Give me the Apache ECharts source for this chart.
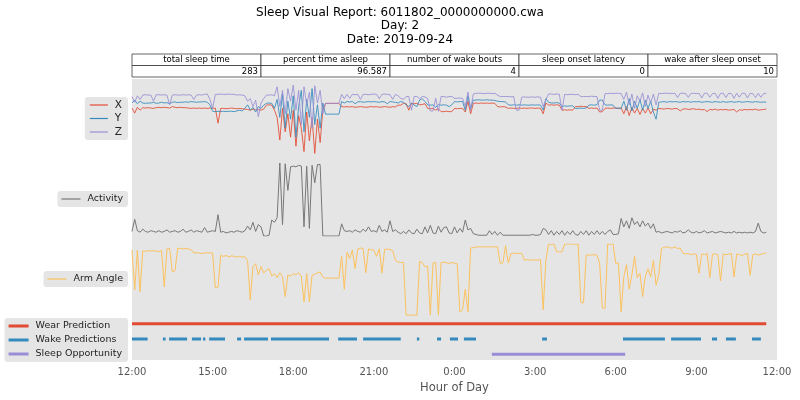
<!DOCTYPE html>
<html><head><meta charset="utf-8">
<script src="https://cdn.jsdelivr.net/npm/echarts@6/dist/echarts.min.js"></script>
<style>html,body{margin:0;padding:0;background:#fff}#c{width:800px;height:400px}</style>
</head><body><div id="c"></div>
<script>
// ---------- DATA ----------
const titleLines = ['Sleep Visual Report: 6011802_0000000000.cwa', 'Day: 2', 'Date: 2019-09-24'];
const tableHeaders = ['total sleep time', 'percent time asleep', 'number of wake bouts', 'sleep onset latency', 'wake after sleep onset'];
const tableValues = ['283', '96.587', '4', '0', '10'];
const tickLabels = ['12:00', '15:00', '18:00', '21:00', '0:00', '3:00', '6:00', '9:00', '12:00'];
const xAxisName = 'Hour of Day';
const SAMPLE_STEP_H = 0.1; // hours between samples, starting at 12:00

const accX = [
0.36,0.22,0.38,0.30,0.37,0.36,0.37,0.36,0.35,0.37,
0.38,0.37,0.38,0.37,0.36,0.40,0.38,0.37,0.38,0.37,
0.37,0.36,0.35,0.36,0.35,0.36,0.35,0.36,0.35,0.36,
0.35,0.36,-0.06,0.35,0.35,0.34,0.35,0.36,0.35,0.34,
0.35,0.34,0.33,0.32,0.30,0.33,0.31,0.32,0.30,0.33,
0.44,0.45,0.44,0.30,0.10,-0.53,0.35,-0.30,0.20,-0.45,
0.30,-0.70,0.15,-0.20,-0.85,0.25,-0.55,0.10,-0.90,0.05,
-0.60,0.30,0.49,0.49,0.49,0.49,0.49,0.49,0.40,0.39,
0.40,0.39,0.40,0.38,0.39,0.40,0.39,0.38,0.39,0.40,
0.39,0.40,0.38,0.39,0.40,0.39,0.38,0.40,0.39,0.44,
0.44,0.49,0.48,0.30,0.49,0.48,0.49,0.45,0.46,0.48,
0.35,0.34,0.35,0.30,0.34,0.26,0.26,0.27,0.26,0.26,
0.35,0.34,0.35,0.35,0.25,0.55,0.20,0.49,0.50,0.49,
0.50,0.49,0.50,0.49,0.50,0.49,0.40,0.39,0.40,0.39,
0.35,0.36,0.35,0.35,0.36,0.35,0.36,0.35,0.36,0.36,
0.35,0.36,0.35,0.20,0.50,0.44,0.45,0.44,0.45,0.44,
0.30,0.31,0.30,0.31,0.30,0.40,0.40,0.41,0.40,0.40,
0.35,0.36,0.35,0.36,0.25,0.26,0.35,0.36,0.35,0.36,
0.36,0.35,0.36,0.20,0.40,0.15,0.38,0.22,0.35,0.18,
0.35,0.22,0.36,0.20,0.33,0.30,0.35,0.34,0.33,0.35,
0.34,0.33,0.35,0.34,0.28,0.33,0.34,0.32,0.33,0.34,
0.32,0.33,0.31,0.32,0.26,0.32,0.31,0.33,0.30,0.32,
0.31,0.32,0.30,0.31,0.32,0.25,0.31,0.30,0.32,0.31,
0.32,0.31,0.33,0.30,0.31,0.32,0.33
];
const accY = [
0.50,0.58,0.48,0.55,0.50,0.49,0.50,0.50,0.52,0.49,
0.50,0.52,0.50,0.51,0.48,0.52,0.53,0.51,0.52,0.52,
0.53,0.52,0.54,0.53,0.52,0.53,0.53,0.54,0.52,0.45,
0.27,0.26,0.27,0.26,0.27,0.26,0.27,0.27,0.26,0.28,
0.30,0.28,0.35,0.45,0.30,0.38,0.25,0.40,0.35,0.44,
0.49,0.50,0.49,0.35,0.60,0.10,0.75,-0.20,0.55,0.05,
0.70,-0.45,0.40,0.85,-0.30,0.60,0.10,0.90,-0.10,0.45,
-0.20,0.50,0.19,0.19,0.19,0.19,0.19,0.19,0.54,0.50,
0.54,0.53,0.54,0.48,0.53,0.54,0.52,0.53,0.54,0.53,
0.54,0.53,0.52,0.54,0.53,0.48,0.54,0.53,0.52,0.50,
0.54,0.52,0.45,0.40,0.50,0.44,0.40,0.58,0.62,0.54,
0.45,0.44,0.45,0.38,0.45,0.44,0.45,0.44,0.40,0.45,
0.54,0.53,0.54,0.54,0.30,0.70,0.35,0.58,0.58,0.59,
0.58,0.58,0.59,0.58,0.58,0.57,0.55,0.54,0.54,0.53,
0.45,0.44,0.45,0.44,0.45,0.44,0.45,0.44,0.44,0.45,
0.44,0.45,0.44,0.30,0.62,0.52,0.50,0.50,0.51,0.50,
0.40,0.42,0.41,0.42,0.42,0.35,0.35,0.36,0.35,0.36,
0.44,0.45,0.44,0.45,0.58,0.58,0.45,0.44,0.45,0.44,
0.35,0.36,0.35,0.55,0.30,0.62,0.28,0.55,0.35,0.60,
0.30,0.58,0.35,0.55,0.25,0.05,0.52,0.53,0.54,0.52,
0.54,0.53,0.54,0.53,0.52,0.54,0.53,0.54,0.52,0.54,
0.53,0.54,0.52,0.53,0.54,0.53,0.52,0.54,0.53,0.52,
0.54,0.52,0.53,0.54,0.52,0.53,0.54,0.52,0.53,0.54,
0.53,0.52,0.54,0.53,0.52,0.53,0.52
];
const accZ = [
0.68,0.52,0.70,0.60,0.72,0.73,0.72,0.72,0.55,0.73,
0.73,0.72,0.73,0.72,0.45,0.72,0.73,0.72,0.72,0.73,
0.72,0.73,0.72,0.60,0.72,0.73,0.72,0.74,0.75,0.60,
0.35,0.74,0.74,0.75,0.74,0.74,0.75,0.74,0.74,0.72,
0.73,0.72,0.70,0.55,0.62,0.40,0.58,0.12,0.50,0.62,
0.72,0.72,0.73,0.70,0.95,0.40,0.85,0.20,0.90,0.55,
1.00,0.30,0.85,-0.10,0.95,0.45,0.80,-0.20,0.98,0.50,
0.85,0.20,0.49,0.49,0.49,0.49,0.49,0.49,0.74,0.62,
0.74,0.63,0.74,0.73,0.74,0.60,0.74,0.74,0.73,0.74,
0.75,0.74,0.62,0.74,0.75,0.74,0.73,0.60,0.74,0.70,
0.63,0.60,0.68,0.68,0.30,0.68,0.68,0.62,0.68,0.67,
0.63,0.28,0.28,0.63,0.27,0.68,0.68,0.66,0.68,0.68,
0.63,0.63,0.64,0.63,0.40,0.80,0.30,0.75,0.77,0.77,
0.77,0.76,0.77,0.77,0.76,0.77,0.72,0.68,0.68,0.68,
0.68,0.67,0.68,0.30,0.30,0.66,0.67,0.66,0.66,0.67,
0.66,0.67,0.66,0.40,0.60,0.75,0.75,0.74,0.75,0.74,
0.30,0.74,0.73,0.74,0.74,0.73,0.74,0.68,0.68,0.68,
0.68,0.69,0.68,0.68,0.30,0.30,0.76,0.76,0.77,0.76,
0.77,0.77,0.76,0.60,0.80,0.45,0.75,0.35,0.70,0.55,
0.78,0.40,0.72,0.50,0.75,0.45,0.77,0.76,0.77,0.77,
0.77,0.76,0.77,0.65,0.77,0.77,0.76,0.66,0.77,0.77,
0.76,0.77,0.64,0.77,0.77,0.66,0.76,0.77,0.63,0.77,
0.77,0.65,0.77,0.76,0.63,0.77,0.66,0.77,0.77,0.64,
0.77,0.76,0.65,0.77,0.66,0.76,0.77
];
const activity = [
0.06,0.22,0.07,0.05,0.09,0.06,0.05,0.07,0.06,0.05,
0.07,0.05,0.06,0.08,0.05,0.06,0.07,0.05,0.06,0.09,
0.05,0.06,0.08,0.05,0.07,0.06,0.05,0.11,0.05,0.06,
0.07,0.06,0.28,0.05,0.06,0.04,0.05,0.06,0.05,0.07,
0.06,0.05,0.07,0.13,0.08,0.18,0.06,0.15,0.12,0.00,
0.00,0.01,0.21,0.18,0.24,0.96,0.15,0.95,0.60,0.91,
0.92,0.91,0.93,0.92,0.12,0.92,0.10,0.93,0.70,0.94,
0.94,0.00,0.00,0.00,0.00,0.00,0.00,0.00,0.16,0.07,
0.06,0.07,0.05,0.08,0.06,0.05,0.09,0.06,0.12,0.06,
0.07,0.05,0.14,0.06,0.08,0.05,0.20,0.06,0.08,0.05,
0.03,0.06,0.03,0.08,0.04,0.03,0.09,0.04,0.03,0.12,
0.04,0.14,0.04,0.03,0.13,0.05,0.11,0.12,0.04,0.03,
0.12,0.04,0.10,0.05,0.21,0.08,0.10,0.03,0.02,0.01,
0.01,0.01,0.01,0.07,0.02,0.06,0.01,0.05,0.01,0.01,
0.01,0.01,0.01,0.01,0.01,0.01,0.01,0.01,0.01,0.02,
0.01,0.01,0.02,0.10,0.08,0.02,0.07,0.01,0.06,0.02,
0.07,0.01,0.06,0.02,0.07,0.02,0.01,0.06,0.02,0.07,
0.01,0.06,0.02,0.07,0.02,0.06,0.02,0.06,0.08,0.02,
0.02,0.03,0.23,0.12,0.20,0.10,0.24,0.15,0.19,0.12,
0.20,0.13,0.17,0.10,0.16,0.05,0.06,0.04,0.05,0.06,
0.05,0.04,0.06,0.05,0.07,0.04,0.05,0.08,0.05,0.04,
0.06,0.04,0.05,0.07,0.04,0.05,0.06,0.04,0.05,0.06,
0.05,0.04,0.05,0.04,0.06,0.04,0.05,0.04,0.05,0.04,
0.05,0.04,0.06,0.17,0.06,0.04,0.05
];
const armAngle = [
75,-22,75,-26,73,72,74,73,74,72,
72,74,-14,78,80,22,25,80,79,78,
79,78,76,68,69,68,67,68,69,68,
68,-17,-15,62,60,62,59,61,60,58,
60,58,59,50,-46,35,42,15,35,20,
25,30,12,18,8,20,10,-38,15,12,
18,15,20,12,-51,18,-51,14,16,20,
22,10,7,7,7,7,7,7,60,-20,
70,55,75,30,78,80,79,20,78,76,
75,60,78,19,77,78,76,74,50,46,
45,46,-83,-83,-83,-83,-83,47,45,35,
36,-83,44,45,-83,45,46,44,43,45,
43,42,-75,-70,-20,-75,80,81,83,83,
83,83,83,83,83,83,83,43,44,86,
44,67,68,67,67,67,51,52,51,51,
51,51,52,-70,50,90,89,90,71,71,
71,90,90,90,90,89,90,-53,-53,63,
63,63,64,63,43,-66,-66,90,89,90,
43,44,-75,10,40,-20,15,60,8,19,
-38,12,30,10,50,-10,14,79,82,83,
81,80,83,79,80,68,66,67,64,66,
65,19,66,64,67,8,65,66,63,0,
66,64,65,67,10,66,64,62,65,67,
14,64,66,63,65,67,68
];
// intervals in hours after 12:00
const wearPrediction = [[0, 23.6]];
const wakePredictions = [[0.0,0.58],[1.15,1.25],[1.38,2.05],[2.23,2.57],[2.64,2.73],[2.87,3.46],[3.91,4.06],[4.17,5.06],[5.17,7.33],[7.67,8.37],[8.6,10.0],[10.6,10.69],[11.35,11.5],[11.83,12.13],[12.35,12.8],[15.26,15.44],[18.27,19.83],[20.06,21.17],[21.58,21.77],[22.1,22.47],[23.07,23.4]];
const sleepOpportunity = [[13.39, 18.35]];

// ---------- CHART ----------
const FONT = 'DejaVu Sans';
const C = { x: '#E24A33', y: '#348ABD', z: '#988ED5', act: '#777777', arm: '#FBC15E' };
const toSeries = arr => arr.map((v, i) => [+(i * SAMPLE_STEP_H).toFixed(2), v]);
const toSegments = (segs, level) => {
  const out = [];
  segs.forEach(([a, b]) => { out.push([a, level], [b, level], [b, '-']); });
  return out;
};

const PL = 132, PW = 645;
const grids = [
  { left: PL, width: PW, top: 79, height: 281, show: true, backgroundColor: '#E5E5E5', borderWidth: 0 },
  { left: PL, width: PW, top: 85, height: 72 },
  { left: PL, width: PW, top: 160, height: 76 },
  { left: PL, width: PW, top: 244, height: 74 },
  { left: PL, width: PW, top: 316, height: 46 }
];
const xAxes = grids.map((g, i) => ({
  type: 'value', gridIndex: i, min: 0, max: 24, interval: 3,
  show: i === 0,
  axisLine: { show: false }, axisTick: { show: false }, splitLine: { show: false },
  axisLabel: { color: '#555', fontFamily: FONT, fontSize: 10, margin: 7,
    formatter: v => tickLabels[Math.round(v / 3)] },
  name: i === 0 ? xAxisName : '', nameLocation: 'middle', nameGap: 17,
  nameTextStyle: { color: '#555', fontFamily: FONT, fontSize: 11.5 }
}));
const yAxes = [
  { gridIndex: 0, type: 'value', show: false, min: 0, max: 1 },
  { gridIndex: 1, type: 'value', show: false, min: -1, max: 1 },
  { gridIndex: 2, type: 'value', show: false, min: 0, max: 1 },
  { gridIndex: 3, type: 'value', show: false, min: -90, max: 90 },
  { gridIndex: 4, type: 'value', show: false, min: -0.5, max: 2.5 }
];
const lineS = (name, data, color, gi, extra) => Object.assign({
  name, type: 'line', data, xAxisIndex: gi, yAxisIndex: gi, symbol: 'none',
  color, lineStyle: { width: 1, color }, animation: false, silent: true
}, extra || {});

const series = [
  lineS('X', toSeries(accX), C.x, 1, { lineStyle: { width: 1, color: C.x, opacity: 0.85 } }),
  lineS('Y', toSeries(accY), C.y, 1, { lineStyle: { width: 1, color: C.y, opacity: 0.85 } }),
  lineS('Z', toSeries(accZ), C.z, 1, { lineStyle: { width: 1, color: C.z, opacity: 0.85 } }),
  lineS('Activity', toSeries(activity), C.act, 2),
  lineS('Arm Angle', toSeries(armAngle), C.arm, 3),
  lineS('Wear Prediction', toSegments(wearPrediction, 2), C.x, 4, { lineStyle: { width: 3, color: C.x } }),
  lineS('Wake Predictions', toSegments(wakePredictions, 1), C.y, 4, { lineStyle: { width: 3, color: C.y } }),
  lineS('Sleep Opportunity', toSegments(sleepOpportunity, 0), C.z, 4, { lineStyle: { width: 3, color: C.z } })
];

const legBase = {
  orient: 'vertical', right: 800 - 128, align: 'left', icon: 'rect',
  backgroundColor: '#E5E5E5', borderRadius: 3, selectedMode: false,
  textStyle: { fontFamily: FONT, fontSize: 9.5, color: '#222', lineHeight: 12, padding: [0, 0, 0, 2] }
};
const legends = [
  Object.assign({}, legBase, { top: 97, data: ['X', 'Y', 'Z'], itemWidth: 18, itemHeight: 1.2, itemGap: 1.5, padding: [2, 6, 2, 5],
    textStyle: Object.assign({}, legBase.textStyle, { fontSize: 10.5 }) }),
  Object.assign({}, legBase, { top: 191, data: ['Activity'], itemWidth: 19, itemHeight: 1.2, padding: [2, 5, 2, 4] }),
  Object.assign({}, legBase, { top: 271, data: ['Arm Angle'], itemWidth: 19, itemHeight: 1.2, padding: [2, 5, 2, 4] }),
  Object.assign({}, legBase, { top: 318, data: ['Wear Prediction', 'Wake Predictions', 'Sleep Opportunity'], itemWidth: 20, itemHeight: 3, itemGap: 2, padding: [2, 6, 2, 4] })
];

// title + summary table as graphic text
const graphic = [{
  type: 'text', x: 400, y: 6,
  style: { text: titleLines.join('\n'), align: 'center', verticalAlign: 'top', fill: '#000',
    font: '12px "DejaVu Sans"', lineHeight: 13.5 }
}];
const colW = PW / tableHeaders.length, rowTop = 54, rowH = 11.5;
tableHeaders.forEach((h, i) => {
  const x0 = PL + i * colW;
  graphic.push({ type: 'rect', shape: { x: x0, y: rowTop, width: colW, height: rowH }, style: { fill: '#fff', stroke: '#222', lineWidth: 0.7 } });
  graphic.push({ type: 'rect', shape: { x: x0, y: rowTop + rowH, width: colW, height: rowH }, style: { fill: '#fff', stroke: '#222', lineWidth: 0.7 } });
  graphic.push({ type: 'text', x: x0 + colW / 2, y: rowTop + rowH / 2 + 0.5, style: { text: h, align: 'center', verticalAlign: 'middle', fill: '#000', font: '8.5px "DejaVu Sans"' } });
  graphic.push({ type: 'text', x: x0 + colW - 3, y: rowTop + rowH * 1.5 + 0.5, style: { text: tableValues[i], align: 'right', verticalAlign: 'middle', fill: '#000', font: '8.5px "DejaVu Sans"' } });
});

const chart = echarts.init(document.getElementById('c'), null, { renderer: 'canvas' });
chart.setOption({
  animation: false,
  textStyle: { fontFamily: FONT },
  grid: grids, xAxis: xAxes, yAxis: yAxes,
  legend: legends, series, graphic
});
</script></body></html>
